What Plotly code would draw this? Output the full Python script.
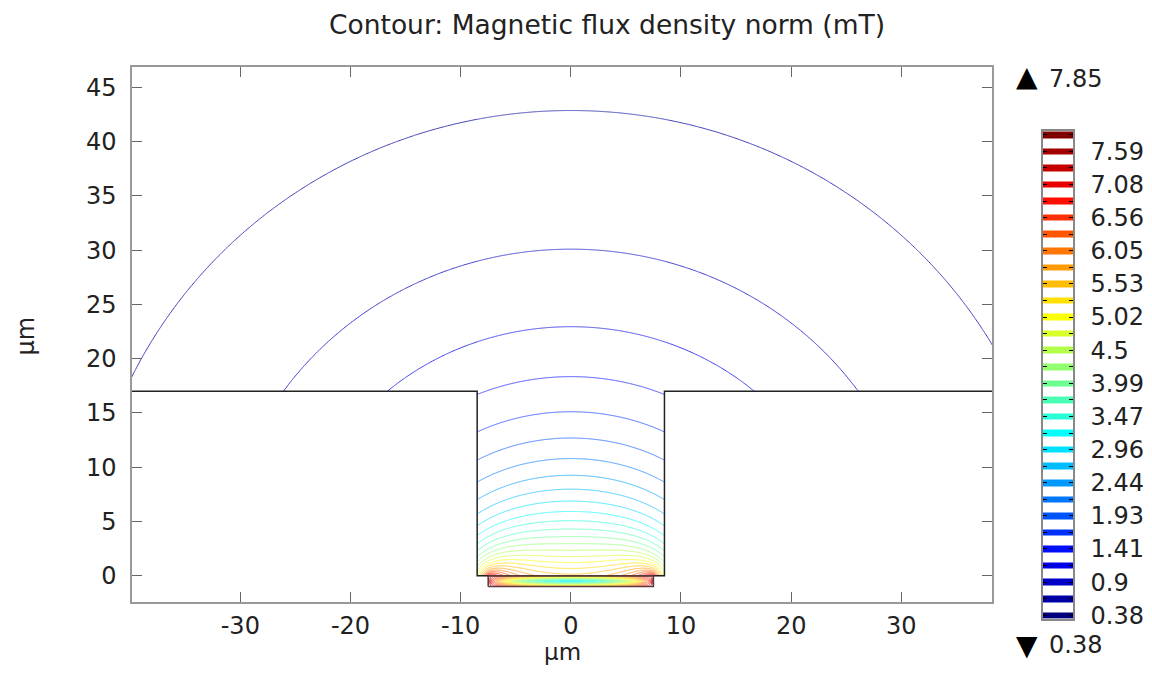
import numpy as np
import plotly.graph_objects as go

# ---------------- data ----------------
title_text = "Contour: Magnetic flux density norm (mT)"
axis_unit = "µm"
level_min = 0.38          # colour-legend minimum (mT)
level_max = 7.85          # colour-legend maximum (mT)
n_levels = 30             # number of contour levels (stripes in the legend)
bar_labels = ["0.38", "0.9", "1.41", "1.93", "2.44", "2.96", "3.47", "3.99",
              "4.5", "5.02", "5.53", "6.05", "6.56", "7.08", "7.59"]
x_ticks = [-30, -20, -10, 0, 10, 20, 30]
y_ticks = [0, 5, 10, 15, 20, 25, 30, 35, 40, 45]
x_view = [-39.83, 38.23]
y_view = [-2.42, 46.90]

# geometry (µm)
trench_half_width = 8.5
trench_depth = 17.0
strip_half_width = 7.5
strip_bottom = -1.0
strip_top = 0.0
field_scale = 1.862       # mT per unit normalised strip integral

# ---------------- field of a current-carrying strip conductor ----------------
a = strip_half_width
thk = strip_top - strip_bottom
xs = np.concatenate([np.arange(-40.2, -8.55, 0.2),
                     np.linspace(-trench_half_width, trench_half_width, 426),
                     np.arange(8.7, 38.6, 0.2)])
y_air = np.concatenate([np.linspace(strip_top, 1.5, 76),
                        np.linspace(1.6, trench_depth, 155),
                        np.arange(17.2, 47.4, 0.2)])


def strip_integral(zc, n):
    yp = strip_bottom + (np.arange(n) + 0.5) * (thk / n)
    acc = np.zeros(zc.shape, dtype=complex)
    for yy in yp:
        w = zc - 1j * yy
        acc += np.log((w + a) / (w - a))
    return acc / n


def field(xv, yv, n):
    Xg, Yg = np.meshgrid(xv, yv)
    return field_scale * np.abs(strip_integral(Xg + 1j * Yg, n))


B_air = np.vstack([field(xs, y_air[y_air < 2.0], 400),
                   field(xs, y_air[y_air >= 2.0], 60)])
# inside the conductor: values on its faces plus a thickness-averaged middle row
y_in = np.linspace(strip_bottom, strip_top, 41)
B_in = field(xs, y_in, 400)
B_mid = B_in.mean(axis=0)
ys = np.concatenate([[strip_bottom, 0.5 * (strip_bottom + strip_top)], y_air])
B = np.vstack([B_in[0], B_mid, B_air])

X, Y = np.meshgrid(xs, ys)
eps = 1e-9
upper = Y >= trench_depth - eps
trench = (np.abs(X) <= trench_half_width + eps) & (Y >= -eps) & (Y <= trench_depth + eps)
strip = (np.abs(X) <= strip_half_width + eps) & (Y >= strip_bottom - eps) & (Y <= strip_top + eps)
valid = upper | trench | strip
zlist = [[(round(float(v), 4) if ok else None) for v, ok in zip(row, vrow)]
         for row, vrow in zip(B, valid)]

levels = [level_min + k * (level_max - level_min) / (n_levels - 1) for k in range(n_levels)]
tick_text = [bar_labels[k // 2] if k % 2 == 0 else "" for k in range(n_levels)]

jet = [[0.0, "#00007F"], [0.125, "#0000FF"], [0.375, "#00FFFF"],
       [0.625, "#FFFF00"], [0.875, "#FF0000"], [1.0, "#7F0000"]]

W, H = 1152, 673
FONT = "DejaVu Sans"
FS = 24

fig = go.Figure()
fig.add_trace(go.Contour(
    x=xs, y=ys, z=zlist, zmin=level_min, zmax=level_max, zauto=False,
    colorscale=jet, showscale=False, connectgaps=False, hoverinfo="skip",
    opacity=0.75,
    contours=dict(coloring="lines", start=level_min, end=level_max + 1e-6,
                  size=(level_max - level_min) / (n_levels - 1), showlabels=False),
    line=dict(width=1)))

# geometry outline
fig.add_trace(go.Scatter(
    x=[xs[0], -trench_half_width, -trench_half_width, trench_half_width, trench_half_width, xs[-1]],
    y=[trench_depth, trench_depth, 0, 0, trench_depth, trench_depth],
    mode="lines", line=dict(color="#222222", width=1.5), hoverinfo="skip", showlegend=False))
fig.add_trace(go.Scatter(
    x=[-strip_half_width, strip_half_width, strip_half_width, -strip_half_width, -strip_half_width],
    y=[strip_bottom, strip_bottom, strip_top, strip_top, strip_bottom],
    mode="lines", line=dict(color="#5a3a3a", width=1.5), hoverinfo="skip", showlegend=False))

# colour legend
fig.add_trace(go.Heatmap(
    x=[0], y=levels, z=[[v] for v in levels], zmin=level_min, zmax=level_max,
    colorscale=jet, showscale=False, ygap=10, xgap=0, hoverinfo="skip",
    xaxis="x2", yaxis="y2"))

ax_common = dict(showgrid=False, zeroline=False, showline=True, linecolor="#999999",
                 linewidth=1.5, mirror="ticks", ticks="inside", ticklen=10,
                 tickcolor="#666666", tickfont=dict(family=FONT, size=FS, color="#222222"))

fig.update_layout(
    width=W, height=H, autosize=False, margin=dict(l=0, r=0, t=0, b=0),
    paper_bgcolor="white", plot_bgcolor="white", showlegend=False,
    xaxis=dict(domain=[132 / W, 992 / W], range=x_view, tickvals=x_ticks,
               ticktext=[str(v) for v in x_ticks], ticklabelstandoff=1, **ax_common),
    yaxis=dict(domain=[1 - 612 / H, 1 - 68 / H], range=y_view, tickvals=y_ticks,
               ticktext=[str(v) for v in y_ticks], ticklabelstandoff=9, **ax_common),
    xaxis2=dict(domain=[1043 / W, 1073 / W], range=[-0.5, 0.5], showgrid=False,
                zeroline=False, showline=True, linecolor="#888888", linewidth=1.5,
                mirror=True, showticklabels=False, ticks="", anchor="y2"),
    yaxis2=dict(domain=[1 - 629 / H, 1 - 133 / H],
                range=[level_min - 0.0535, level_max + 0.061],
                tickvals=levels, ticktext=tick_text, side="right", anchor="x2",
                showgrid=False, zeroline=False, showline=True, linecolor="#888888",
                linewidth=1.5, mirror="ticks", ticks="inside", ticklen=4,
                tickcolor="#000000", ticklabelstandoff=11,
                tickfont=dict(family=FONT, size=FS, color="#222222")),
    font=dict(family=FONT, color="#222222"),
)

ann_font = dict(family=FONT, size=FS, color="#222222")
fig.add_annotation(text=title_text, x=607 / W, y=1 - 25 / H, xref="paper", yref="paper",
                   showarrow=False, xanchor="center", yanchor="middle",
                   font=dict(family=FONT, size=26.5, color="#222222"))
fig.add_annotation(text=axis_unit, x=562 / W, y=1 - 663 / H, xref="paper", yref="paper",
                   showarrow=False, xanchor="center", yanchor="middle",
                   font=dict(family=FONT, size=23, color="#222222"))
fig.add_annotation(text=axis_unit, x=26 / W, y=1 - 342 / H, xref="paper", yref="paper",
                   showarrow=False, xanchor="center", yanchor="middle", textangle=-90,
                   font=ann_font)
fig.add_annotation(text="▲", x=1027 / W, y=1 - 78 / H, xref="paper", yref="paper",
                   showarrow=False, xanchor="center", yanchor="middle",
                   font=dict(family=FONT, size=28, color="#000000"))
fig.add_annotation(text=f"{level_max:.2f}", x=1047 / W, y=1 - 80 / H, xref="paper",
                   yref="paper", showarrow=False, xanchor="left", yanchor="middle",
                   font=ann_font)
fig.add_annotation(text="▼", x=1027 / W, y=1 - 656 / H, xref="paper", yref="paper",
                   showarrow=False, xanchor="center", yanchor="middle",
                   font=dict(family=FONT, size=28, color="#000000"))
fig.add_annotation(text=f"{level_min:.2f}", x=1047 / W, y=1 - 656 / H, xref="paper",
                   yref="paper", showarrow=False, xanchor="left", yanchor="middle",
                   font=ann_font)

fig.write_html("out.html")
